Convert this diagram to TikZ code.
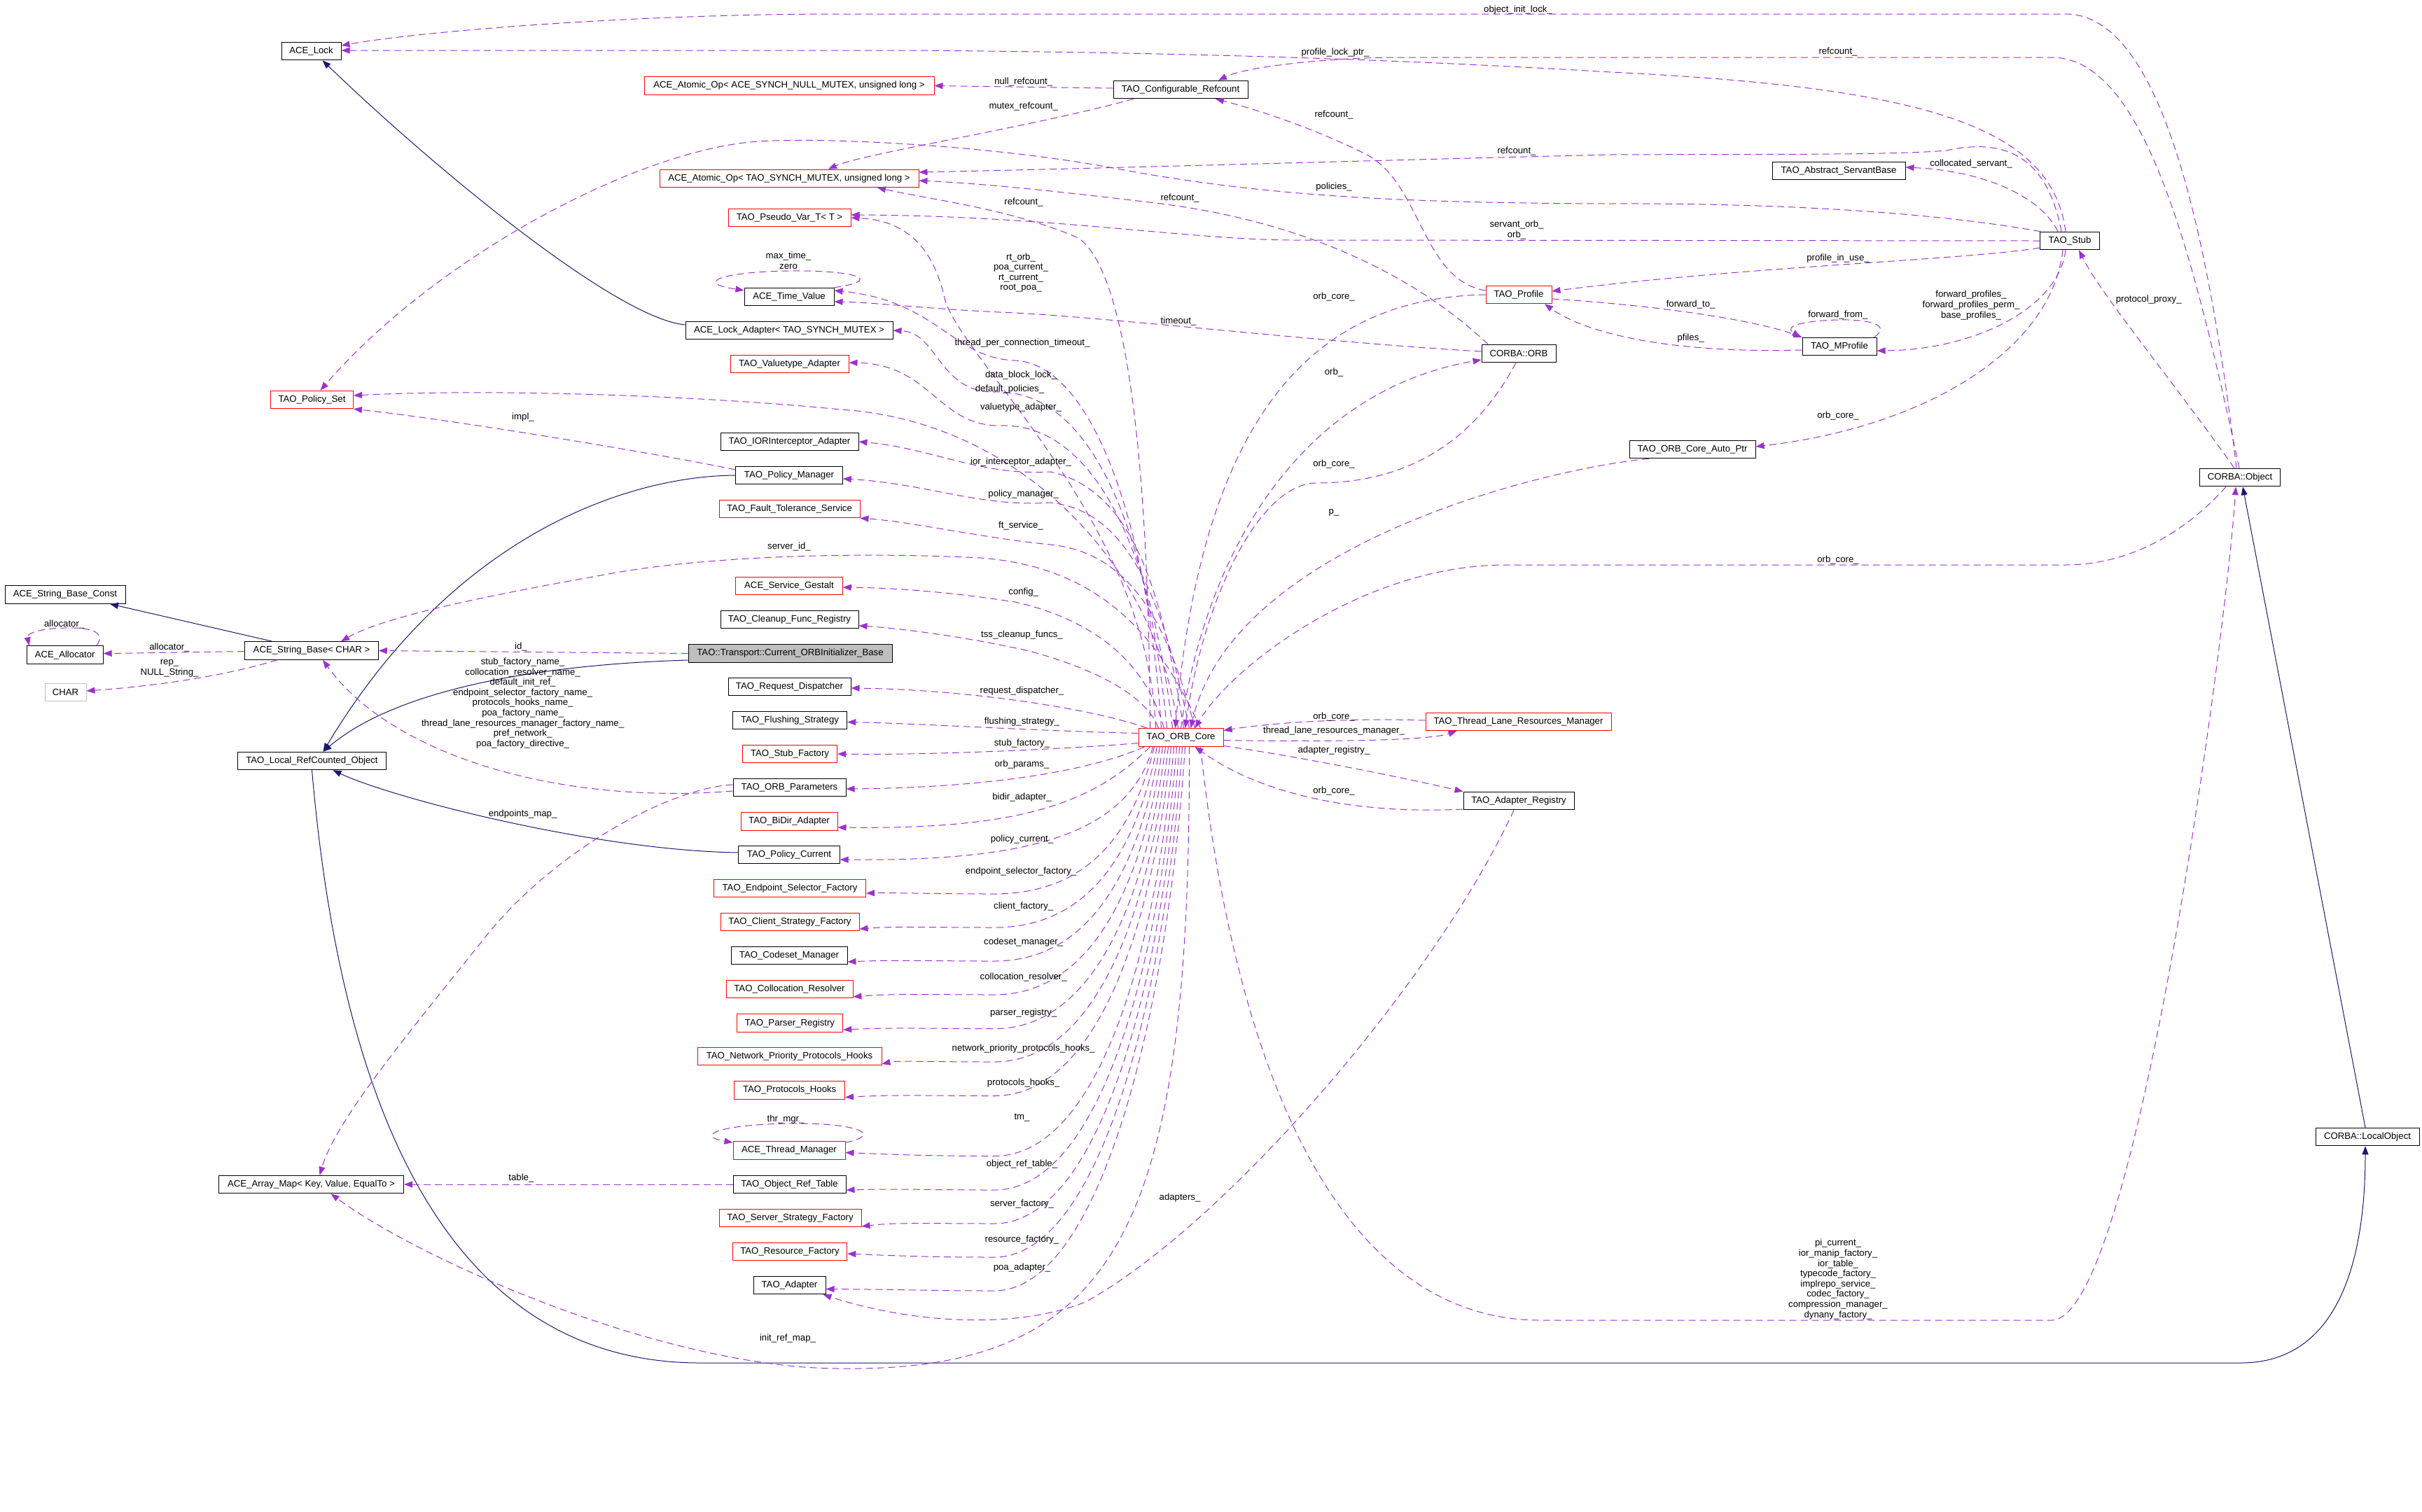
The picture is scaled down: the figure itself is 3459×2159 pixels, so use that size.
\documentclass[tikz,border=0pt]{standalone}
\usepackage{fontspec}
\setmainfont{Liberation Sans}
\usetikzlibrary{arrows.meta}
\definecolor{usecol}{HTML}{9A32CD}
\definecolor{inhcol}{HTML}{191970}
\definecolor{boxgray}{HTML}{BFBFBF}
\newcommand{\corelow}[4]{%
  \draw[usage] ([xshift=#1pt]orbcore.south) .. controls ({1661.5+2*(#1)},{(#3+1067)/2}) and (1570,{#3+8}) .. (1420,{#3+8}) .. controls (1330,{#3+8}) and (1280,{#3+6}) .. ([yshift=#4pt]#2.east);}
\begin{document}
\begin{tikzpicture}[x=0.5pt,y=-0.5pt,
  box/.style={draw=black, line width=0.5pt, minimum height=12.75pt, inner sep=0pt, font=\fontsize{6.6}{7.3}\selectfont},
  redbox/.style={box, draw=red},
  wd/.style={minimum width={#1*0.5pt}},
  lbl/.style={font=\fontsize{6.6}{7.3}\selectfont, inner sep=0pt, align=center},
  usage/.style={draw=usecol, line width=0.5pt, dash pattern=on 5pt off 3pt, -{Triangle[length=6pt,width=4.5pt]}},
  inh/.style={draw=inhcol, line width=0.5pt, -{Triangle[length=6pt,width=4.5pt]}}]
\useasboundingbox (0,0) rectangle (3459,2159);
\fill[white] (0,0) rectangle (3459,2159);

% ---------- nodes ----------
\node[box, wd=85] (acelock) at (444.5,73) {ACE\_Lock};
\node[redbox, wd=414] (atomnull) at (1127,122.5) {ACE\_Atomic\_Op< ACE\_SYNCH\_NULL\_MUTEX, unsigned long >};
\node[redbox, wd=370] (atomtao) at (1127,255) {ACE\_Atomic\_Op< TAO\_SYNCH\_MUTEX, unsigned long >};
\node[redbox, wd=175] (pseudo) at (1127.5,311) {TAO\_Pseudo\_Var\_T< T >};
\node[box, wd=128] (timeval) at (1127,424) {ACE\_Time\_Value};
\node[box, wd=296] (lockadapt) at (1127,472) {ACE\_Lock\_Adapter< TAO\_SYNCH\_MUTEX >};
\node[redbox, wd=169] (valuetype) at (1127.5,520) {TAO\_Valuetype\_Adapter};
\node[redbox, wd=118] (policyset) at (445.5,571) {TAO\_Policy\_Set};
\node[box, wd=197] (iorint) at (1127.5,631) {TAO\_IORInterceptor\_Adapter};
\node[box, wd=192] (cfgref) at (1686,128) {TAO\_Configurable\_Refcount};
\node[redbox, wd=94] (profile) at (2169,421) {TAO\_Profile};
\node[box, wd=106] (orb) at (2169,505) {CORBA::ORB};
\node[box, wd=190] (servant) at (2626,244) {TAO\_Abstract\_ServantBase};
\node[box, wd=84.5] (stub) at (2956,344) {TAO\_Stub};
\node[box, wd=106] (mprofile) at (2627,495) {TAO\_MProfile};
\node[box, wd=180] (autoptr) at (2417,642) {TAO\_ORB\_Core\_Auto\_Ptr};
\node[box, wd=114.5] (object) at (3199,682) {CORBA::Object};
\node[box, wd=152.5] (polmgr) at (1127,679) {TAO\_Policy\_Manager};
\node[redbox, wd=201] (faulttol) at (1127.5,727) {TAO\_Fault\_Tolerance\_Service};
\node[redbox, wd=152.5] (gestalt) at (1127,837) {ACE\_Service\_Gestalt};
\node[box, wd=197] (cleanup) at (1127.5,885) {TAO\_Cleanup\_Func\_Registry};
\node[box, fill=boxgray, wd=291] (curinit) at (1128.5,933.5) {TAO::Transport::Current\_ORBInitializer\_Base};
\node[box, wd=175] (reqdisp) at (1127.5,981) {TAO\_Request\_Dispatcher};
\node[box, wd=163.4] (flush) at (1128,1029) {TAO\_Flushing\_Strategy};
\node[redbox, wd=135] (stubfac) at (1128,1077) {TAO\_Stub\_Factory};
\node[box, wd=161] (orbparams) at (1127.5,1125) {TAO\_ORB\_Parameters};
\node[redbox, wd=138] (bidir) at (1127,1173.5) {TAO\_BiDir\_Adapter};
\node[box, wd=144.4] (polcur) at (1127,1221) {TAO\_Policy\_Current};
\node[box, wd=172] (sbconst) at (93,849.5) {ACE\_String\_Base\_Const};
\node[box, wd=109] (allocator) at (92.7,935.6) {ACE\_Allocator};
\node[box, wd=190.5] (strbase) at (445,929.5) {ACE\_String\_Base< CHAR >};
\node[box, draw=boxgray, wd=59] (charn) at (93.5,989) {CHAR};
\node[box, wd=212] (localrc) at (445.5,1087) {TAO\_Local\_RefCounted\_Object};
\node[redbox, wd=121] (orbcore) at (1686.5,1053.5) {TAO\_ORB\_Core};
\node[redbox, wd=265] (tlrm) at (2168.5,1031) {TAO\_Thread\_Lane\_Resources\_Manager};
\node[box, wd=158] (adreg) at (2169,1144) {TAO\_Adapter\_Registry};
\node[redbox, wd=217] (endsel) at (1128,1269) {TAO\_Endpoint\_Selector\_Factory};
\node[redbox, wd=198] (clientstrat) at (1128,1317) {TAO\_Client\_Strategy\_Factory};
\node[box, wd=166] (codeset) at (1127,1365) {TAO\_Codeset\_Manager};
\node[redbox, wd=181] (colloc) at (1127.5,1413) {TAO\_Collocation\_Resolver};
\node[redbox, wd=151.5] (parser) at (1128,1461.6) {TAO\_Parser\_Registry};
\node[redbox, wd=263] (netprio) at (1127.5,1509) {TAO\_Network\_Priority\_Protocols\_Hooks};
\node[redbox, wd=157.5] (protohooks) at (1127.7,1557.5) {TAO\_Protocols\_Hooks};
\node[redbox, wd=160] (thrmgr) at (1127,1643.5) {ACE\_Thread\_Manager};
\node[box, wd=161] (objref) at (1127.5,1692) {TAO\_Object\_Ref\_Table};
\node[redbox, wd=203] (serverstrat) at (1128.5,1740) {TAO\_Server\_Strategy\_Factory};
\node[redbox, wd=163.4] (resfac) at (1128,1788) {TAO\_Resource\_Factory};
\node[box, wd=103] (adapter) at (1127.5,1836) {TAO\_Adapter};
\node[box, wd=264] (arraymap) at (444.5,1692) {ACE\_Array\_Map< Key, Value, EqualTo >};
\node[box, wd=148] (localobj) at (3381,1624) {CORBA::LocalObject};

% ---------- inheritance ----------
\draw[inh] ([yshift=4pt]lockadapt.west) .. controls (880,455) and (620,240) .. ([xshift=8pt]acelock.south);
\draw[inh] ([xshift=-28pt]strbase.north) -- ([xshift=32pt]sbconst.south);
\draw[inh] (polmgr.west) .. controls (900,680) and (650,760) .. ([xshift=8pt]localrc.north);
\draw[inh] ([yshift=-4.75pt]curinit.west) .. controls (750,950) and (560,990) .. ([xshift=8pt]localrc.north);
\draw[inh] ([yshift=1.5pt]polcur.west) .. controls (850,1215) and (560,1140) .. ([xshift=15pt]localrc.south);
\draw[inh] (localrc.south) .. controls (480,1500) and (600,1947) .. (1000,1947) -- (3200,1947) .. controls (3340,1947) and (3378,1800) .. ([xshift=-1.5pt]localobj.south);
\draw[inh] ([xshift=-1.5pt]localobj.north) -- ([xshift=2pt]object.south);

% ---------- usage: top area ----------
\draw[usage] ([xshift=-2.5pt]object.north) .. controls (3150,300) and (3080,20) .. (2950,20) -- (1200,20) .. controls (900,20) and (600,45) .. ([yshift=4pt]acelock.east);
\draw[usage] ([xshift=-3pt]stub.north) .. controls (2930,180) and (2750,125) .. (2300,103) .. controls (2000,85) and (1700,75) .. (1300,72) -- ([yshift=0.5pt]acelock.east);
\draw[usage] ([xshift=-0.5pt]object.north) .. controls (3130,350) and (3060,82) .. (2930,82) -- (2000,82) .. controls (1900,82) and (1780,95) .. ([xshift=27pt]cfgref.north);
\draw[usage] ([yshift=1pt]cfgref.west) -- (atomnull.east);
\draw[usage] ([xshift=-33.5pt]cfgref.south) .. controls (1480,180) and (1230,220) .. ([xshift=28pt]atomtao.north);
\draw[usage] ([yshift=3pt]profile.west) .. controls (2030,400) and (2030,260) .. (1950,220) .. controls (1860,175) and (1770,150) .. ([xshift=25pt]cfgref.south);
\draw[usage] ([xshift=-6pt]stub.north) .. controls (2925,230) and (2870,195) .. (2780,215) .. controls (2700,222) and (2500,220) .. (2300,221) .. controls (2000,228) and (1600,240) .. ([yshift=4.5pt]atomtao.east);
\draw[usage] ([xshift=-22pt]orb.north) .. controls (2050,420) and (1900,320) .. (1650,290) .. controls (1500,272) and (1400,262) .. ([yshift=-1.5pt]atomtao.east);
\draw[usage] ([xshift=-22pt]orbcore.north) .. controls (1640,600) and (1600,380) .. (1540,340) .. controls (1450,300) and (1330,285) .. ([xshift=63pt]atomtao.south);
\draw[usage] ([xshift=-21pt]stub.north) .. controls (2800,310) and (2600,290) .. (2300,291) .. controls (2000,290) and (1800,280) .. (1590,240) .. controls (1400,205) and (1150,195) .. (1071,203) .. controls (900,220) and (620,370) .. ([xshift=6pt]policyset.north);
\draw[usage] (stub.west) -- (1850,343) .. controls (1700,343) and (1500,308) .. ([yshift=2pt]pseudo.east);
\draw[usage] ([xshift=-18pt]orbcore.north) .. controls (1640,750) and (1380,520) .. (1350,430) .. controls (1335,360) and (1300,315) .. (pseudo.east);
\draw[usage] (timeval.north east) .. controls (1265,400) and (1220,386) .. (1130,387) .. controls (1030,388) and (990,404) .. ([yshift=-2pt]timeval.north west);
\draw[usage] ([xshift=-14pt]orbcore.north) .. controls (1640,750) and (1560,520) .. (1450,515) .. controls (1360,512) and (1340,430) .. ([yshift=4.5pt]timeval.east);
\draw[usage] ([yshift=1.5pt]orb.west) .. controls (1900,490) and (1600,455) .. (1450,447) .. controls (1330,442) and (1250,432) .. ([yshift=-3.5pt]timeval.east);
\draw[usage] ([xshift=-10pt]orbcore.north) .. controls (1640,760) and (1560,555) .. (1420,560) .. controls (1340,560) and (1340,475) .. (lockadapt.east);
\draw[usage] ([xshift=-6pt]orbcore.north) .. controls (1645,780) and (1560,605) .. (1430,608) .. controls (1340,610) and (1330,520) .. ([yshift=1pt]valuetype.east);
\draw[usage] ([xshift=-2pt]orbcore.north) .. controls (1650,800) and (1450,600) .. (1200,585) .. controls (1000,565) and (700,555) .. ([yshift=3pt]policyset.east);
\draw[usage] ([yshift=4pt]polmgr.west) .. controls (950,650) and (650,600) .. (policyset.south east);
\draw[usage] ([xshift=2pt]orbcore.north) .. controls (1660,850) and (1620,700) .. (1500,674) .. controls (1400,680) and (1330,640) .. (iorint.east);
\draw[usage] ([xshift=6pt]orbcore.north) .. controls (1665,880) and (1620,730) .. (1500,718) .. controls (1400,725) and (1320,690) .. ([yshift=-2.5pt]polmgr.east);
\draw[usage] ([xshift=10pt]orbcore.north) .. controls (1670,900) and (1620,790) .. (1500,778) .. controls (1400,768) and (1300,745) .. (faulttol.south east);
\draw[usage] ([xshift=14pt]orbcore.north) .. controls (1660,920) and (1580,810) .. (1400,797) .. controls (1200,787) and (1000,797) .. (880,818) .. controls (700,850) and (550,880) .. ([xshift=21pt]strbase.north);
\draw[usage] ([xshift=-12pt]orbcore.north) .. controls (1640,960) and (1580,890) .. (1450,860) .. controls (1350,845) and (1280,840) .. ([yshift=-1pt]gestalt.east);
\draw[usage] ([xshift=-16pt]orbcore.north) .. controls (1640,1000) and (1580,960) .. (1470,930) .. controls (1380,910) and (1290,898) .. ([yshift=-4.4pt]cleanup.east);
\draw[usage] (curinit.west) -- (strbase.east);
\draw[usage] ([xshift=-24pt]orbcore.north) .. controls (1560,1012) and (1380,985) .. ([yshift=-1pt]reqdisp.east);
\draw[usage] ([yshift=3pt]orbcore.west) .. controls (1500,1045) and (1300,1033) .. ([yshift=-1.25pt]flush.east);
\draw[usage] ([yshift=-4pt]orbcore.west) .. controls (1500,1072) and (1300,1079) .. (stubfac.east);
\draw[usage] ([xshift=-26pt]orbcore.south) .. controls (1560,1100) and (1420,1125) .. ([yshift=-1pt]orbparams.east);
\draw[usage] ([yshift=-2.5pt]orbparams.west) .. controls (800,1150) and (560,1080) .. ([xshift=8pt]strbase.south);
\draw[usage] ([yshift=2pt]orbparams.west) .. controls (960,1125) and (800,1210) .. (700,1330) .. controls (580,1480) and (480,1600) .. ([xshift=6pt]arraymap.north);
\draw[usage] ([xshift=-22pt]orbcore.south) .. controls (1560,1150) and (1450,1185) .. ([yshift=-4.25pt]bidir.east);
\draw[usage] ([xshift=-20pt]orbcore.south) .. controls (1610,1200) and (1450,1230) .. ([yshift=-3.5pt]polcur.east);

% ---------- usage: lower fan ----------
\corelow{-19}{endsel}{1269}{-3.5}
\corelow{-17}{clientstrat}{1317}{-5}
\corelow{-15}{codeset}{1365}{-4.5}
\corelow{-13}{colloc}{1413}{-5.5}
\corelow{-11}{parser}{1461.6}{-4.7}
\corelow{-9}{netprio}{1509}{-5.5}
\corelow{-7}{protohooks}{1557.5}{-5}
\corelow{-5}{thrmgr}{1643.5}{-1.5}
\corelow{-3}{objref}{1692}{-4}
\corelow{-1}{serverstrat}{1740}{-6}
\corelow{1}{resfac}{1788}{-1.5}
\corelow{3}{adapter}{1836}{-2.75}
\draw[usage] ([yshift=-1pt]thrmgr.north east) .. controls (1265,1620) and (1220,1604) .. (1130,1605) .. controls (1030,1606) and (990,1622) .. ([yshift=-1pt]thrmgr.north west);
\draw[usage] (objref.west) -- (arraymap.east);
\draw[usage] ([xshift=6pt]orbcore.south) .. controls (1700,1750) and (1600,1960) .. (1200,1955) .. controls (950,1955) and (600,1800) .. ([xshift=14pt]arraymap.south);
\draw[usage] ([xshift=14pt]orbcore.south) .. controls (1760,1500) and (1900,1886) .. (2200,1886) -- (2930,1886) .. controls (3050,1886) and (3180,900) .. ([xshift=-3pt]object.south);
\draw[usage] ([xshift=-3.5pt]adreg.south) .. controls (2050,1400) and (1750,1750) .. (1550,1860) .. controls (1450,1900) and (1300,1890) .. ([xshift=-2pt]adapter.south east);

% ---------- usage: right of ORB core ----------
\draw[usage] ([yshift=-6pt]orbcore.east) .. controls (1850,1080) and (2000,1110) .. (adreg.north west);
\draw[usage] ([yshift=-6pt]adreg.west) .. controls (1900,1165) and (1780,1120) .. ([xshift=10pt]orbcore.south);
\draw[usage] ([yshift=1pt]tlrm.west) .. controls (1900,1025) and (1800,1035) .. ([yshift=5pt]orbcore.east);
\draw[usage] ([yshift=-2pt]orbcore.east) .. controls (1900,1060) and (2040,1058) .. ([xshift=-44pt]tlrm.south);
\draw[usage] ([xshift=-10pt]object.south) .. controls (3140,740) and (3060,807) .. (2950,807) -- (2150,807) .. controls (1950,807) and (1760,950) .. ([xshift=10pt]orbcore.north);
\draw[usage] ([xshift=-31pt]autoptr.south) .. controls (2200,670) and (1760,780) .. ([xshift=7pt]orbcore.north);
\draw[usage] ([xshift=-2pt]orb.south) .. controls (2100,640) and (2000,690) .. (1880,690) .. controls (1800,690) and (1720,850) .. ([xshift=3pt]orbcore.north);
\draw[usage] (orbcore.north) .. controls (1720,800) and (1850,560) .. ([yshift=-4.5pt]orb.west);
\draw[usage] (profile.west) .. controls (1900,425) and (1720,560) .. ([xshift=-4pt]orbcore.north);

% ---------- usage: stub / profile area ----------
\draw[usage] ([yshift=-5pt]stub.west) .. controls (2800,372) and (2500,380) .. ([yshift=2.5pt]profile.east);
\draw[usage] ([yshift=-3pt]profile.east) .. controls (2350,435) and (2500,455) .. (mprofile.north west);
\draw[usage] ([yshift=-2.5pt]mprofile.west) .. controls (2400,505) and (2270,480) .. ([xshift=18.5pt]profile.south);
\draw[usage] ([xshift=-2pt]mprofile.north east) .. controls (2705,462) and (2660,456) .. (2625,457) .. controls (2580,458) and (2545,465) .. ([xshift=-1pt]mprofile.north west);
\draw[usage] ([xshift=-3pt]stub.south) .. controls (2940,440) and (2820,500) .. ([yshift=-3pt]mprofile.east);
\draw[usage] ([xshift=-5pt]stub.south) .. controls (2930,500) and (2750,610) .. ([yshift=2pt]autoptr.east);
\draw[usage] ([xshift=-8.5pt]stub.north) .. controls (2920,290) and (2850,245) .. ([yshift=2.5pt]servant.east);
\draw[usage] ([xshift=-4pt]object.north) .. controls (3100,540) and (3000,420) .. ([xshift=6.5pt]stub.south);

% ---------- usage: string area ----------
\draw[usage] ([yshift=-0.5pt]strbase.west) -- ([yshift=1pt]allocator.east);
\draw[usage] ([xshift=-5pt]allocator.north east) .. controls (155,900) and (120,896) .. (92,897) .. controls (55,898) and (38,905) .. ([xshift=2pt]allocator.north west);
\draw[usage] ([xshift=-24.5pt]strbase.south) .. controls (340,960) and (250,978) .. ([yshift=1pt]charn.east);

% ---------- labels ----------
\node[lbl] (t01) at (2168,13.7) {object\_init\_lock\_};
\node[lbl] (t02) at (1907,75) {profile\_lock\_ptr\_};
\node[lbl] (t03) at (2625,74) {refcount\_};
\node[lbl] (t04) at (1461.7,117.3) {null\_refcount\_};
\node[lbl] (t05) at (1461.7,151.7) {mutex\_refcount\_};
\node[lbl] (t06) at (1905,164) {refcount\_};
\node[lbl] (t07) at (2166,215.6) {refcount\_};
\node[lbl] (t08) at (1905,266.6) {policies\_};
\node[lbl] (t09) at (1685,283) {refcount\_};
\node[lbl] (t10) at (1462,289) {refcount\_};
\node[lbl] (t11) at (2166,328.5) {servant\_orb\_\\orb\_};
\node[lbl] (t12) at (1458,389.5) {rt\_orb\_\\poa\_current\_\\rt\_current\_\\root\_poa\_};
\node[lbl] (t13) at (1126,372.5) {max\_time\_\\zero};
\node[lbl] (t14) at (1905,423.7) {orb\_core\_};
\node[lbl] (t15) at (1683,459) {timeout\_};
\node[lbl] (t16) at (1460,490.5) {thread\_per\_connection\_timeout\_};
\node[lbl] (t17) at (1905,532) {orb\_};
\node[lbl] (t18) at (1458,535.6) {data\_block\_lock\_};
\node[lbl] (t19) at (1442,556) {default\_policies\_};
\node[lbl] (t20) at (1458,582) {valuetype\_adapter\_};
\node[lbl] (t21) at (747,596) {impl\_};
\node[lbl] (t22) at (1458,659.6) {ior\_interceptor\_adapter\_};
\node[lbl] (t23) at (1905,663) {orb\_core\_};
\node[lbl] (t24) at (1461.7,706) {policy\_manager\_};
\node[lbl] (t25) at (1905,732) {p\_};
\node[lbl] (t26) at (1458,751.4) {ft\_service\_};
\node[lbl] (t27) at (1127,781) {server\_id\_};
\node[lbl] (t28) at (2625,800) {orb\_core\_};
\node[lbl] (t29) at (1461.7,846) {config\_};
\node[lbl] (t30) at (1459.5,907) {tss\_cleanup\_funcs\_};
\node[lbl] (t31) at (744,923.6) {id\_};
\node[lbl] (t32) at (242,925.5) {allocator\_};
\node[lbl] (t33) at (91.7,892) {allocator\_};
\node[lbl] (t34) at (242,955) {rep\_\\NULL\_String\_};
\node[lbl] (t35) at (746.6,1004.5) {stub\_factory\_name\_\\collocation\_resolver\_name\_\\default\_init\_ref\_\\endpoint\_selector\_factory\_name\_\\protocols\_hooks\_name\_\\poa\_factory\_name\_\\thread\_lane\_resources\_manager\_factory\_name\_\\pref\_network\_\\poa\_factory\_directive\_};
\node[lbl] (t36) at (1459.5,987.5) {request\_dispatcher\_};
\node[lbl] (t37) at (1905,1024) {orb\_core\_};
\node[lbl] (t38) at (1459.5,1031.5) {flushing\_strategy\_};
\node[lbl] (t39) at (1905,1044) {thread\_lane\_resources\_manager\_};
\node[lbl] (t40) at (1459.5,1061.7) {stub\_factory\_};
\node[lbl] (t41) at (1905,1072) {adapter\_registry\_};
\node[lbl] (t42) at (1459.5,1092) {orb\_params\_};
\node[lbl] (t43) at (1905,1130) {orb\_core\_};
\node[lbl] (t44) at (1459.5,1138.7) {bidir\_adapter\_};
\node[lbl] (t45) at (746.6,1162.8) {endpoints\_map\_};
\node[lbl] (t46) at (1459.5,1199) {policy\_current\_};
\node[lbl] (t47) at (1458,1245) {endpoint\_selector\_factory\_};
\node[lbl] (t48) at (1461.7,1294.6) {client\_factory\_};
\node[lbl] (t49) at (1461.7,1346) {codeset\_manager\_};
\node[lbl] (t50) at (1461.7,1396) {collocation\_resolver\_};
\node[lbl] (t51) at (1461.7,1447) {parser\_registry\_};
\node[lbl] (t52) at (1461.7,1497.8) {network\_priority\_protocols\_hooks\_};
\node[lbl] (t53) at (1461.7,1547) {protocols\_hooks\_};
\node[lbl] (t54) at (1459.5,1597) {tm\_};
\node[lbl] (t55) at (1122,1599) {thr\_mgr\_};
\node[lbl] (t56) at (1459.5,1663) {object\_ref\_table\_};
\node[lbl] (t57) at (744.4,1683) {table\_};
\node[lbl] (t58) at (1685,1710.7) {adapters\_};
\node[lbl] (t59) at (1459.5,1719.6) {server\_factory\_};
\node[lbl] (t60) at (1459.5,1771.4) {resource\_factory\_};
\node[lbl] (t61) at (1459.5,1811) {poa\_adapter\_};
\node[lbl] (t62) at (2625,1827.5) {pi\_current\_\\ior\_manip\_factory\_\\ior\_table\_\\typecode\_factory\_\\implrepo\_service\_\\codec\_factory\_\\compression\_manager\_\\dynany\_factory\_};
\node[lbl] (t63) at (1125,1912) {init\_ref\_map\_};
\node[lbl] (t64) at (2815,234) {collocated\_servant\_};
\node[lbl] (t65) at (2625,369) {profile\_in\_use\_};
\node[lbl] (t66) at (2414.6,435) {forward\_to\_};
\node[lbl] (t67) at (2625,449.6) {forward\_from\_};
\node[lbl] (t68) at (2414.6,483) {pfiles\_};
\node[lbl] (t69) at (2815,436) {forward\_profiles\_\\forward\_profiles\_perm\_\\base\_profiles\_};
\node[lbl] (t70) at (3068.7,428) {protocol\_proxy\_};
\node[lbl] (t71) at (2625,594.5) {orb\_core\_};
\end{tikzpicture}
\end{document}
